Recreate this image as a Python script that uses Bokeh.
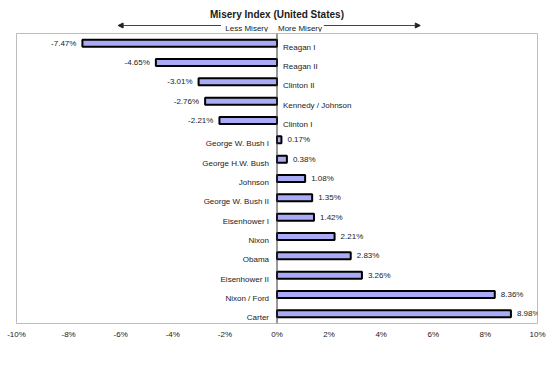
from bokeh.plotting import figure
from bokeh.layouts import column
from bokeh.models import Range1d, FactorRange, FixedTicker, Span, Arrow, NormalHead, ColumnDataSource
from bokeh.core.properties import value
from bokeh.embed import file_html
from bokeh.resources import INLINE

# ---- data ----
presidencies = ["Reagan I", "Reagan II", "Clinton II", "Kennedy / Johnson", "Clinton I",
                "George W. Bush I", "George H.W. Bush", "Johnson", "George W. Bush II",
                "Eisenhower I", "Nixon", "Obama", "Eisenhower II", "Nixon / Ford", "Carter"]
change_pct = [-7.47, -4.65, -3.01, -2.76, -2.21, 0.17, 0.38, 1.08, 1.35, 1.42,
              2.21, 2.83, 3.26, 8.36, 8.98]
x_ticks = [-10, -8, -6, -4, -2, 0, 2, 4, 6, 8, 10]
x_tick_labels = ["-10%", "-8%", "-6%", "-4%", "-2%", "0%", "2%", "4%", "6%", "8%", "10%"]
title_text = "Misery Index (United States)"
less_text = "Less Misery"
more_text = "More Misery"

FONT = value("Liberation Sans")
TXT = "#1a1a1a"
W = 547
ML, MR = 16, 10

xr = Range1d(-10, 10)

# ---- header figure (title + arrows) ----
top = figure(width=W, height=32, x_range=xr, y_range=Range1d(0, 32),
             output_backend="svg", toolbar_location=None,
             min_border_left=ML, min_border_right=MR, min_border_top=0, min_border_bottom=0)
top.axis.visible = False
top.grid.visible = False
top.outline_line_color = None
top.text(x=[0], y=[18], text=[title_text], text_font=FONT, text_font_size="10px",
         text_font_style="bold", text_align="center", text_baseline="middle", text_color=TXT)
top.text(x=[0], y=[4], text=[less_text], x_offset=-9, text_font=FONT, text_font_size="8px",
         text_align="right", text_baseline="middle", text_color=TXT)
top.text(x=[0], y=[4], text=[more_text], x_offset=1, text_font=FONT, text_font_size="8px",
         text_align="left", text_baseline="middle", text_color=TXT)
top.add_layout(Arrow(x_start=-2.15, y_start=7, x_end=-6.1, y_end=7, line_color="#444444",
                     line_width=1, end=NormalHead(size=5, fill_color="#222222", line_color="#222222")))
top.add_layout(Arrow(x_start=1.8, y_start=7, x_end=5.5, y_end=7, line_color="#444444",
                     line_width=1, end=NormalHead(size=5, fill_color="#222222", line_color="#222222")))

# ---- main figure ----
src = ColumnDataSource(dict(
    cat=presidencies,
    val=change_pct,
    lbl=[f"{v:.2f}%" for v in change_pct],
    lbl_align=["right" if v < 0 else "left" for v in change_pct],
    lbl_off=[-6 if v < 0 else 6 for v in change_pct],
    cat_align=["left" if v < 0 else "right" for v in change_pct],
    cat_off=[6 if v < 0 else -8 for v in change_pct],
))

p = figure(width=W, height=336, x_range=xr,
           y_range=FactorRange(factors=presidencies[::-1], range_padding=0),
           output_backend="svg", toolbar_location=None,
           min_border_left=ML, min_border_right=MR, min_border_top=1, min_border_bottom=45)
p.grid.visible = False
p.yaxis.visible = False
p.outline_line_color = "#bdbdbd"
p.outline_line_width = 1
p.background_fill_color = "white"

p.hbar(y="cat", left=0, right="val", height=0.36, source=src,
       fill_color="#aaaaf7", line_color="black", line_width=2)
p.add_layout(Span(location=0, dimension="height", line_color="#333333", line_width=1))

p.text(x="val", y="cat", text="lbl", x_offset="lbl_off", text_align="lbl_align",
       text_baseline="middle", text_font=FONT, text_font_size="8px", text_color=TXT, source=src)
p.text(x=0, y="cat", text="cat", x_offset="cat_off", y_offset=4, text_align="cat_align",
       text_baseline="middle", text_font=FONT, text_font_size="8px", text_color=TXT, source=src)

xa = p.xaxis[0]
xa.ticker = FixedTicker(ticks=x_ticks)
xa.major_label_overrides = {t: l for t, l in zip(x_ticks, x_tick_labels)}
xa.axis_line_color = None
xa.major_tick_line_color = None
xa.minor_tick_line_color = None
xa.major_tick_in = 0
xa.major_tick_out = 0
xa.major_label_standoff = 6
xa.major_label_text_font = "Liberation Sans"
xa.major_label_text_font_size = "8px"
xa.major_label_text_color = TXT

layout = column(top, p, spacing=0)
open("out.html", "w").write(file_html(layout, INLINE))
